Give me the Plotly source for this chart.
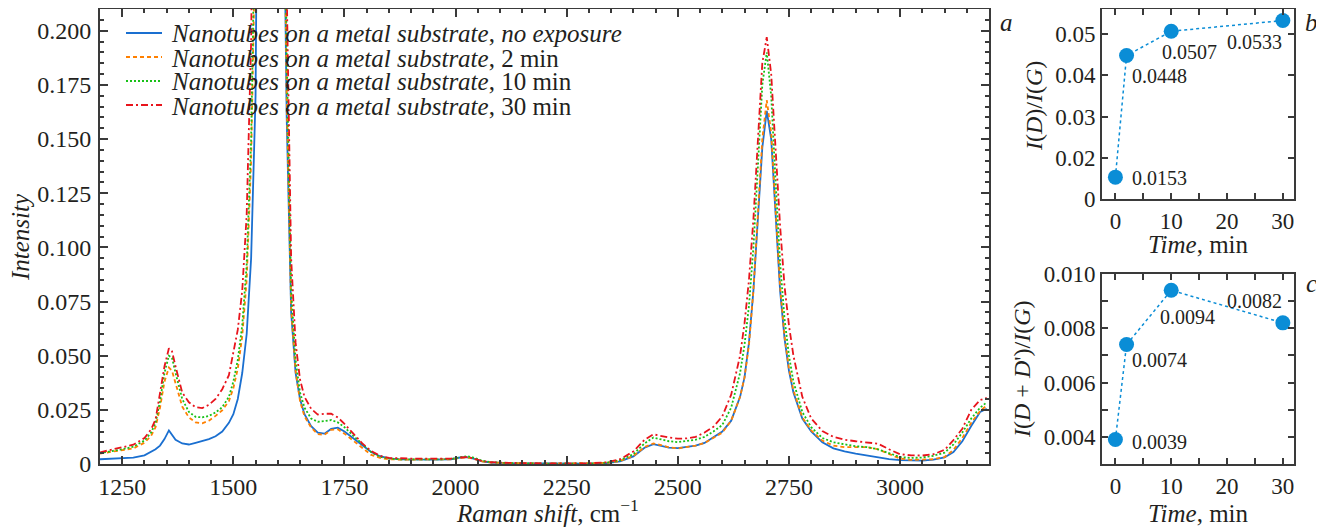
import plotly.graph_objects as go

# ---------------- data ----------------
raman_shift = [1200, 1225, 1250, 1275, 1300, 1315, 1325, 1335, 1345, 1355, 1362, 1370, 1385, 1400, 1415, 1430,
               1445, 1460, 1475, 1490, 1500, 1510, 1520, 1530, 1540, 1550, 1560, 1570, 1580, 1590, 1600, 1610,
               1620, 1630, 1640, 1650, 1660, 1675, 1690, 1705, 1720, 1735, 1750, 1770, 1790, 1810, 1830, 1850,
               1875, 1900, 1950, 1990, 2010, 2025, 2040, 2060, 2080, 2120, 2200, 2300, 2340, 2370, 2400, 2425,
               2445, 2460, 2480, 2500, 2520, 2540, 2560, 2580, 2600, 2620, 2640, 2650, 2660, 2670, 2680, 2690,
               2700, 2710, 2720, 2730, 2740, 2750, 2760, 2780, 2800, 2825, 2850, 2875, 2900, 2925, 2950, 2975,
               3000, 3025, 3050, 3075, 3100, 3120, 3140, 3160, 3180, 3195]

intensity_no_exposure = [0.0022, 0.0025, 0.0027, 0.0029, 0.0040, 0.0055, 0.0068, 0.0085, 0.0115, 0.0155, 0.0135, 0.0112, 0.0095, 0.0090, 0.0098, 0.0105,
                         0.0115, 0.0128, 0.0150, 0.0190, 0.0230, 0.0300, 0.0420, 0.0600, 0.0950, 0.1700, 0.3500, 0.7000, 1.0000, 0.9500, 0.6500, 0.3300,
                         0.1600, 0.0700, 0.0420, 0.0300, 0.0230, 0.0175, 0.0145, 0.0140, 0.0162, 0.0168, 0.0150, 0.0118, 0.0085, 0.0055, 0.0036, 0.0026,
                         0.0021, 0.0020, 0.0020, 0.0022, 0.0030, 0.0032, 0.0025, 0.0012, 0.0007, 0.0004, 0.0002, 0.0002, 0.0004, 0.0012, 0.0035, 0.0075,
                         0.0092, 0.0085, 0.0076, 0.0073, 0.0078, 0.0085, 0.0097, 0.0122, 0.0150, 0.0200, 0.0310, 0.0400, 0.0560, 0.0800, 0.1120, 0.1460,
                         0.1630, 0.1500, 0.1150, 0.0800, 0.0580, 0.0430, 0.0330, 0.0210, 0.0150, 0.0100, 0.0072, 0.0058, 0.0048, 0.0040, 0.0030, 0.0022,
                         0.0018, 0.0016, 0.0016, 0.0020, 0.0030, 0.0055, 0.0105, 0.0175, 0.0240, 0.0255]

intensity_2min = [0.0048, 0.0055, 0.0062, 0.0072, 0.0098, 0.0130, 0.0170, 0.0260, 0.0380, 0.0445, 0.0430, 0.0370, 0.0265, 0.0215, 0.0192, 0.0188,
                  0.0200, 0.0222, 0.0248, 0.0290, 0.0350, 0.0440, 0.0590, 0.0850, 0.1400, 0.2500, 0.4500, 0.8000, 1.0000, 0.9500, 0.6500, 0.3400,
                  0.1700, 0.0720, 0.0430, 0.0290, 0.0220, 0.0168, 0.0138, 0.0135, 0.0158, 0.0160, 0.0140, 0.0108, 0.0072, 0.0042, 0.0028, 0.0022,
                  0.0020, 0.0020, 0.0021, 0.0022, 0.0028, 0.0030, 0.0024, 0.0012, 0.0007, 0.0004, 0.0002, 0.0002, 0.0005, 0.0014, 0.0037, 0.0078,
                  0.0095, 0.0088, 0.0077, 0.0072, 0.0077, 0.0085, 0.0097, 0.0120, 0.0145, 0.0200, 0.0310, 0.0400, 0.0550, 0.0800, 0.1130, 0.1500,
                  0.1680, 0.1530, 0.1170, 0.0820, 0.0590, 0.0440, 0.0340, 0.0215, 0.0155, 0.0108, 0.0085, 0.0078, 0.0078, 0.0078, 0.0068, 0.0045,
                  0.0025, 0.0019, 0.0019, 0.0022, 0.0032, 0.0065, 0.0120, 0.0190, 0.0245, 0.0270]

intensity_10min = [0.0050, 0.0058, 0.0068, 0.0080, 0.0108, 0.0145, 0.0190, 0.0290, 0.0420, 0.0500, 0.0490, 0.0420, 0.0300, 0.0240, 0.0218, 0.0215,
                   0.0222, 0.0238, 0.0262, 0.0310, 0.0380, 0.0480, 0.0640, 0.0920, 0.1500, 0.2700, 0.5000, 0.8500, 1.0000, 0.9500, 0.6800, 0.3600,
                   0.1900, 0.0800, 0.0480, 0.0330, 0.0260, 0.0210, 0.0195, 0.0198, 0.0203, 0.0192, 0.0170, 0.0130, 0.0092, 0.0055, 0.0033, 0.0025,
                   0.0022, 0.0021, 0.0021, 0.0023, 0.0032, 0.0036, 0.0030, 0.0015, 0.0008, 0.0004, 0.0002, 0.0002, 0.0006, 0.0018, 0.0045, 0.0095,
                   0.0122, 0.0115, 0.0105, 0.0101, 0.0105, 0.0112, 0.0125, 0.0150, 0.0180, 0.0260, 0.0420, 0.0550, 0.0730, 0.1000, 0.1370, 0.1750,
                   0.1900, 0.1700, 0.1300, 0.0930, 0.0670, 0.0500, 0.0380, 0.0240, 0.0170, 0.0120, 0.0100, 0.0090, 0.0082, 0.0078, 0.0068, 0.0050,
                   0.0032, 0.0028, 0.0030, 0.0038, 0.0052, 0.0090, 0.0145, 0.0210, 0.0260, 0.0285]

intensity_30min = [0.0054, 0.0065, 0.0075, 0.0089, 0.0120, 0.0160, 0.0205, 0.0320, 0.0450, 0.0534, 0.0520, 0.0450, 0.0330, 0.0285, 0.0262, 0.0258,
                   0.0273, 0.0300, 0.0345, 0.0410, 0.0510, 0.0620, 0.0800, 0.1150, 0.1950, 0.3500, 0.6000, 0.9000, 1.0000, 0.9800, 0.7200, 0.4000,
                   0.2200, 0.0950, 0.0560, 0.0390, 0.0310, 0.0255, 0.0228, 0.0232, 0.0232, 0.0215, 0.0185, 0.0140, 0.0095, 0.0060, 0.0038, 0.0028,
                   0.0025, 0.0025, 0.0025, 0.0025, 0.0030, 0.0032, 0.0026, 0.0013, 0.0008, 0.0005, 0.0003, 0.0003, 0.0008, 0.0022, 0.0058, 0.0112,
                   0.0137, 0.0130, 0.0122, 0.0117, 0.0118, 0.0125, 0.0145, 0.0172, 0.0220, 0.0320, 0.0500, 0.0650, 0.0850, 0.1130, 0.1500, 0.1850,
                   0.1970, 0.1800, 0.1450, 0.1100, 0.0820, 0.0640, 0.0500, 0.0310, 0.0210, 0.0152, 0.0125, 0.0112, 0.0105, 0.0100, 0.0094, 0.0068,
                   0.0045, 0.0040, 0.0039, 0.0045, 0.0065, 0.0110, 0.0163, 0.0250, 0.0295, 0.0305]

for s in (intensity_no_exposure, intensity_2min, intensity_10min, intensity_30min):
    assert len(s) == len(raman_shift), len(s)

series_names = ["<i>Nanotubes on a metal substrate</i>, <i>no exposure</i>",
                "<i>Nanotubes on a metal substrate</i>, 2 min",
                "<i>Nanotubes on a metal substrate</i>, 10 min",
                "<i>Nanotubes on a metal substrate</i>, 30 min"]

time_min = [0, 2, 10, 30]
ratio_d_g = [0.0153, 0.0448, 0.0507, 0.0533]
ratio_dd_g = [0.0039, 0.0074, 0.0094, 0.0082]

main_y_ticks = [0, 0.025, 0.05, 0.075, 0.1, 0.125, 0.15, 0.175, 0.2]
main_y_ticktext = ["0", "0.025", "0.050", "0.075", "0.100", "0.125", "0.150", "0.175", "0.200"]
b_y_ticks = [0.01, 0.02, 0.03, 0.04, 0.05]
b_y_ticktext = ["0", "0.02", "0.03", "0.04", "0.05"]
c_y_ticks = [0.004, 0.006, 0.008, 0.010]
c_y_ticktext = ["0.004", "0.006", "0.008", "0.010"]

# ---------------- styling ----------------
OFF = 8                      # page body margin of the browser
W, H = 1324 - OFF, 530 - OFF
FONT = "Liberation Serif"
TXT = "#231f20"
AX = "#3a3a3a"
colors = ["#1a6fd0", "#ff8000", "#17c117", "#e8141c"]
dashes = ["solid", "4px,3px", "2px,2px", "7px,3px,2px,3px"]
PT = "#0a8dd6"


def px_x(x):
    return (x - OFF) / W


def px_y(y):
    return 1 - (y - OFF) / H


fig = go.Figure()

series = [intensity_no_exposure, intensity_2min, intensity_10min, intensity_30min]
for name, ys, c, d in zip(series_names, series, colors, dashes):
    fig.add_trace(go.Scatter(x=raman_shift, y=ys, mode="lines", name=name, showlegend=False,
                             line=dict(color=c, dash=d, width=1.8),
                             xaxis="x", yaxis="y"))

fig.add_trace(go.Scatter(x=time_min, y=ratio_d_g, mode="lines+markers", showlegend=False,
                         line=dict(color=PT, dash="dot", width=1.5),
                         marker=dict(color=PT, size=15), xaxis="x2", yaxis="y2", cliponaxis=False))
fig.add_trace(go.Scatter(x=time_min, y=ratio_dd_g, mode="lines+markers", showlegend=False,
                         line=dict(color=PT, dash="dot", width=1.5),
                         marker=dict(color=PT, size=15), xaxis="x3", yaxis="y3", cliponaxis=False))

axis_common = dict(showline=True, linecolor=AX, linewidth=2, mirror="ticks", ticks="inside",
                   tickcolor=AX, tickwidth=1.5, showgrid=False, zeroline=False, automargin=False)
main_tick_font = dict(family=FONT, size=24, color=TXT)
side_tick_font = dict(family=FONT, size=23, color=TXT)

main_dom_x = [px_x(100), px_x(989)]
main_dom_y = [px_y(464), px_y(9)]
side_dom_x = [px_x(1102), px_x(1294)]
b_dom_y = [px_y(199), px_y(9)]
c_dom_y = [px_y(464), px_y(274)]

fig.update_layout(
    width=W, height=H, autosize=False,
    margin=dict(l=0, r=0, t=0, b=0),
    paper_bgcolor="white", plot_bgcolor="white",
    font=dict(family=FONT, color=TXT),
    showlegend=False,
    xaxis=dict(domain=main_dom_x, range=[1200, 3200], anchor="y", tickmode="linear", tick0=1250, dtick=250,
               ticklen=8, ticklabelstandoff=0, tickfont=main_tick_font,
               minor=dict(tick0=1200, dtick=50, ticks="inside", ticklen=4, tickcolor=AX, tickwidth=1.5),
               **axis_common),
    yaxis=dict(domain=main_dom_y, range=[0, 0.21], anchor="x", tickmode="array", tickvals=main_y_ticks,
               ticktext=main_y_ticktext, ticklen=8, ticklabelstandoff=2, tickfont=main_tick_font,
               minor=dict(tickmode="linear", tick0=0, dtick=0.005, ticks="inside", ticklen=4, tickcolor=AX, tickwidth=1.5),
               **axis_common),
    xaxis2=dict(domain=side_dom_x, range=[-2.4, 32], anchor="y2", tickmode="linear", tick0=0, dtick=10,
                ticklen=6, ticklabelstandoff=0, tickfont=side_tick_font,
                minor=dict(tick0=0, dtick=5, ticks="inside", ticklen=6, tickcolor=AX, tickwidth=1.5),
                **axis_common),
    yaxis2=dict(domain=b_dom_y, range=[0.01, 0.0561], anchor="x2", tickmode="array", tickvals=b_y_ticks,
                ticktext=b_y_ticktext, ticklen=6, ticklabelstandoff=0, tickfont=side_tick_font, **axis_common),
    xaxis3=dict(domain=side_dom_x, range=[-2.4, 32], anchor="y3", tickmode="linear", tick0=0, dtick=10,
                ticklen=6, ticklabelstandoff=0, tickfont=side_tick_font,
                minor=dict(tick0=0, dtick=5, ticks="inside", ticklen=6, tickcolor=AX, tickwidth=1.5),
                **axis_common),
    yaxis3=dict(domain=c_dom_y, range=[0.003, 0.010], anchor="x3", tickmode="array", tickvals=c_y_ticks,
                ticktext=c_y_ticktext, ticklen=6, ticklabelstandoff=0, tickfont=side_tick_font,
                minor=dict(tickmode="linear", tick0=0.003, dtick=0.001, ticks="inside", ticklen=6, tickcolor=AX, tickwidth=1.5),
                **axis_common),
)

ann = []
shapes = []


def label(text, x, y, size=25, angle=0, xanchor="center", yanchor="middle"):
    ann.append(dict(text=text, x=px_x(x), y=px_y(y), xref="paper", yref="paper", showarrow=False,
                    font=dict(family=FONT, size=size, color=TXT), textangle=angle,
                    xanchor=xanchor, yanchor=yanchor))


# legend (drawn compactly, like the reference)
legend_rows_y = [33, 57, 81, 105]
for name, c, d, ly in zip(series_names, colors, dashes, legend_rows_y):
    shapes.append(dict(type="line", xref="paper", yref="paper", x0=px_x(126), x1=px_x(162),
                       y0=px_y(ly), y1=px_y(ly), line=dict(color=c, dash=d, width=2)))
    label(name, 169, ly + 1, size=25, xanchor="left")

label("<i>Raman shift</i>, cm<sup>−1</sup>", 547, 511, size=25)
label("<i>Intensity</i>", 21, 237, size=25, angle=-90)
label("<i>I</i>(<i>D</i>)/<i>I</i>(<i>G</i>)", 1034, 106, size=24, angle=-90)
label("<i>I</i>(<i>D</i> + <i>D</i>')/<i>I</i>(<i>G</i>)", 1022, 369, size=24, angle=-90)
label("<i>Time</i>, min", 1198, 244, size=25)
label("<i>Time</i>, min", 1198, 513, size=25)
label("<i>a</i>", 1006, 22, size=25)
label("<i>b</i>", 1311, 22, size=25)
label("<i>c</i>", 1311, 283, size=25)

b_label_pos = [(1130, 178, "left"), (1130, 76, "left"), (1160, 52, "left"), (1284, 42, "right")]
c_label_pos = [(1130, 442, "left"), (1130, 360, "left"), (1158, 317, "left"), (1284, 301, "right")]
for v, (x, y, xa) in zip(ratio_d_g, b_label_pos):
    label(f"{v:.4f}", x, y, size=20, xanchor=xa)
for v, (x, y, xa) in zip(ratio_dd_g, c_label_pos):
    label(f"{v:.4f}", x, y, size=20, xanchor=xa)

fig.update_layout(annotations=ann, shapes=shapes)

fig.write_html("out.html")
